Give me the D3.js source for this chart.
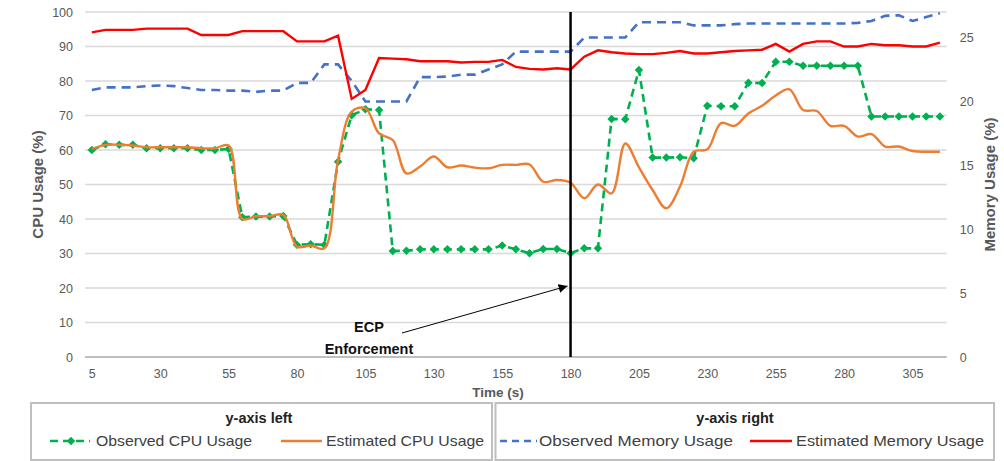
<!DOCTYPE html>
<html><head><meta charset="utf-8">
<script src="https://cdn.jsdelivr.net/npm/d3@7/dist/d3.min.js"></script>
<style>
body{margin:0;background:#fff;}
svg{display:block;font-family:"Liberation Sans",Arial,sans-serif;}
</style></head>
<body><svg id="c" width="1004" height="461"></svg>
<script>
const times = [5,10,15,20,25,30,35,40,45,50,55,60,65,70,75,80,85,90,95,100,105,110,115,120,125,130,135,140,145,150,155,160,165,170,175,180,185,190,195,200,205,210,215,220,225,230,235,240,245,250,255,260,265,270,275,280,285,290,295,300,305,310,315];
const xTickLabels = [5,30,55,80,105,130,155,180,205,230,255,280,305];
const leftTicks = [0,10,20,30,40,50,60,70,80,90,100];
const rightTicks = [0,5,10,15,20,25];

const observedCPU = [60,61.7,61.5,61.5,60.5,60.5,60.5,60.5,60,60,60.3,40.5,40.7,40.7,40.9,32.5,32.7,32.5,56.6,70.1,71.8,71.6,30.7,30.8,31.2,31.2,31.2,31.2,31.2,31.2,32.3,31.2,30.1,31.3,31.3,30.1,31.5,31.5,69.0,68.9,83.2,57.8,57.8,57.9,57.6,72.8,72.7,72.7,79.5,79.4,85.6,85.6,84.4,84.4,84.4,84.4,84.4,69.7,69.7,69.7,69.7,69.7,69.7];
const estimatedCPU = [60.3,61.5,61.5,61.3,60.8,60.8,60.8,60.8,60.5,60.5,61.3,40,40.8,40.8,41.2,32,32.3,31.5,57,71.1,72.1,64.8,62.9,53.2,55.2,58.1,55,55.5,54.9,54.7,55.7,55.7,55.8,50.8,51.3,50.5,46,50,47.4,61.9,55,48.4,43.1,49.4,59.5,60.2,67.8,67.0,70.6,72.8,75.8,77.6,71.6,71.3,67,67,63.9,64.6,61,61,59.7,59.5,59.5];
const observedMem = [20.9,21.1,21.1,21.1,21.2,21.25,21.2,21.05,20.9,20.9,20.85,20.85,20.75,20.85,20.85,21.45,21.45,22.9,22.9,21.6,20.0,20.0,20.0,20.0,21.9,21.9,21.95,22.1,22.1,22.5,22.9,23.9,23.9,23.9,23.9,23.9,25.0,25.0,25.0,25.0,26.2,26.2,26.2,26.2,25.95,25.95,25.95,26.05,26.1,26.1,26.1,26.1,26.1,26.1,26.1,26.1,26.15,26.3,26.7,26.75,26.3,26.6,26.9];
const estimatedMem = [25.4,25.6,25.6,25.6,25.7,25.7,25.7,25.7,25.2,25.2,25.2,25.5,25.5,25.5,25.5,24.7,24.7,24.7,25.15,20.2,20.9,23.4,23.35,23.3,23.15,23.15,23.15,23.05,23.1,23.1,23.25,22.7,22.55,22.5,22.6,22.5,23.5,24.0,23.85,23.75,23.7,23.7,23.8,23.95,23.75,23.75,23.85,23.95,24.0,24.05,24.5,23.9,24.5,24.7,24.7,24.3,24.3,24.5,24.4,24.4,24.3,24.3,24.6];
const enforcementTime = 180;

const svg = d3.select("#c");
const L=85, R=946.7, T=12, B=357;
const x = d3.scalePoint().domain(times).range([L,R]).padding(0.5);
const yL = d3.scaleLinear().domain([0,100]).range([B,T]);
const yR = d3.scaleLinear().domain([0,27]).range([B,T]);
const tickColor="#595959";

// gridlines
svg.append("g").selectAll("line").data(leftTicks.filter(d=>d>0)).join("line")
  .attr("x1",L).attr("x2",R).attr("y1",d=>yL(d)).attr("y2",d=>yL(d))
  .attr("stroke","#d9d9d9").attr("stroke-width",1.3);
svg.append("line").attr("x1",L).attr("x2",R).attr("y1",B).attr("y2",B).attr("stroke","#bfbfbf").attr("stroke-width",2);

// axes
const axL = svg.append("g").attr("transform",`translate(${L},0)`)
  .call(d3.axisLeft(yL).tickValues(leftTicks).tickSize(0).tickPadding(12));
const axR = svg.append("g").attr("transform",`translate(${R},0)`)
  .call(d3.axisRight(yR).tickValues(rightTicks).tickSize(0).tickPadding(13));
const axX = svg.append("g").attr("transform",`translate(0,${B})`)
  .call(d3.axisBottom(x).tickValues(xTickLabels).tickSize(0).tickPadding(12));
[axL,axR,axX].forEach(a=>{a.select(".domain").remove();
  a.selectAll("text").attr("fill",tickColor).style("font-size","12.5px").style("font-family","'Liberation Sans',Arial,sans-serif");});

// axis titles
svg.append("text").attr("transform",`translate(43,${(T+B)/2}) rotate(-90)`).attr("text-anchor","middle")
  .attr("fill",tickColor).style("font-weight","bold").style("font-size","15px").text("CPU Usage (%)");
svg.append("text").attr("transform",`translate(995,${(T+B)/2}) rotate(-90)`).attr("text-anchor","middle")
  .attr("fill",tickColor).style("font-weight","bold").style("font-size","15px").text("Memory Usage (%)");
svg.append("text").attr("x",498).attr("y",397).attr("text-anchor","middle")
  .attr("fill",tickColor).style("font-weight","bold").style("font-size","13.5px").text("Time (s)");

const idx = d3.range(times.length);
// observed CPU
svg.append("path").datum(idx).attr("fill","none").attr("stroke","#00b050").attr("stroke-width",2.6)
  .attr("stroke-dasharray","8,5")
  .attr("d",d3.line().x(i=>x(times[i])).y(i=>yL(observedCPU[i])));
svg.append("g").selectAll("path").data(idx).join("path")
  .attr("transform",i=>`translate(${x(times[i])},${yL(observedCPU[i])})`)
  .attr("d",d3.symbol(d3.symbolDiamond2,46)).attr("fill","#00b050");
// estimated CPU
svg.append("path").datum(idx).attr("fill","none").attr("stroke","#ed7d31").attr("stroke-width",2.4)
  .attr("d",d3.line().curve(d3.curveCatmullRom.alpha(0.5)).x(i=>x(times[i])).y(i=>yL(estimatedCPU[i])));
// observed memory
svg.append("path").datum(idx).attr("fill","none").attr("stroke","#4472c4").attr("stroke-width",2.6)
  .attr("stroke-dasharray","9,6")
  .attr("d",d3.line().x(i=>x(times[i])).y(i=>yR(observedMem[i])));
// estimated memory
svg.append("path").datum(idx).attr("fill","none").attr("stroke","#ff0000").attr("stroke-width",2.4)
  .attr("d",d3.line().x(i=>x(times[i])).y(i=>yR(estimatedMem[i])));

// enforcement line
const xe = x(enforcementTime);
svg.append("line").attr("x1",xe).attr("x2",xe).attr("y1",T).attr("y2",B).attr("stroke","#000").attr("stroke-width",2.5);

// annotation
svg.append("defs").append("marker").attr("id","ah").attr("viewBox","0 0 10 10").attr("refX",10).attr("refY",5)
  .attr("markerWidth",9).attr("markerHeight",9).attr("markerUnits","userSpaceOnUse").attr("orient","auto")
  .append("path").attr("d","M0,0 L10,5 L0,10 z").attr("fill","#000");
svg.append("line").attr("x1",402).attr("y1",333).attr("x2",xe-3).attr("y2",286)
  .attr("stroke","#000").attr("stroke-width",1).attr("marker-end","url(#ah)");
svg.append("text").attr("x",369).attr("y",332).attr("text-anchor","middle").style("font-weight","bold").style("font-size","14.5px").attr("fill","#111").text("ECP");
svg.append("text").attr("x",369).attr("y",354).attr("text-anchor","middle").style("font-weight","bold").style("font-size","14.5px").attr("fill","#111").text("Enforcement");

// legend
const lg = svg.append("g");
lg.append("rect").attr("x",31).attr("y",403).attr("width",461).attr("height",57).attr("fill","none").attr("stroke","#bfbfbf").attr("stroke-width",2);
lg.append("rect").attr("x",495.5).attr("y",403).attr("width",498.5).attr("height",57).attr("fill","none").attr("stroke","#bfbfbf").attr("stroke-width",2);
lg.append("text").attr("x",259).attr("y",423).attr("text-anchor","middle").style("font-weight","bold").style("font-size","14.5px").attr("fill","#222").text("y-axis left");
lg.append("text").attr("x",735).attr("y",423).attr("text-anchor","middle").style("font-weight","bold").style("font-size","14.5px").attr("fill","#222").text("y-axis right");
const ly = 441;
lg.append("line").attr("x1",50).attr("x2",90).attr("y1",ly).attr("y2",ly).attr("stroke","#00b050").attr("stroke-width",2.6).attr("stroke-dasharray","8,5");
lg.append("path").attr("transform",`translate(71,${ly})`).attr("d",d3.symbol(d3.symbolDiamond2,46)).attr("fill","#00b050");
lg.append("line").attr("x1",281).attr("x2",322).attr("y1",ly).attr("y2",ly).attr("stroke","#ed7d31").attr("stroke-width",2.6);
lg.append("line").attr("x1",500).attr("x2",537).attr("y1",ly).attr("y2",ly).attr("stroke","#4472c4").attr("stroke-width",2.6).attr("stroke-dasharray","7,5");
lg.append("line").attr("x1",750).attr("x2",792).attr("y1",ly).attr("y2",ly).attr("stroke","#ff0000").attr("stroke-width",2.6);
const lt = [["Observed CPU Usage",96,156],["Estimated CPU Usage",326,158],["Observed Memory Usage",539,194],["Estimated Memory Usage",796,188]];
lt.forEach(([t,xx,w])=>lg.append("text").attr("x",xx).attr("y",ly+5).attr("fill","#404040").style("font-size","14.5px")
  .attr("textLength",w).attr("lengthAdjust","spacingAndGlyphs").text(t));
</script></body></html>
